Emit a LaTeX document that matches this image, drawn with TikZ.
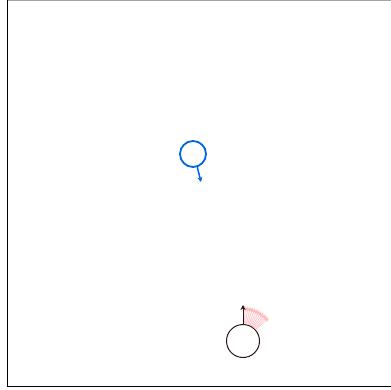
\documentclass[tikz,border=0pt]{standalone}
\usetikzlibrary{arrows.meta,calc}
\definecolor{bluec}{RGB}{0,102,221}
\definecolor{pinkc}{RGB}{255,180,185}
\definecolor{darkc}{RGB}{40,20,20}
\tikzset{
  ball/.style={circle,draw,minimum size=#1,inner sep=0pt},
  tip/.style={-{Stealth[length=5pt,width=5pt]}},
}
\begin{document}
\begin{tikzpicture}[x=1pt,y=-1pt]
\useasboundingbox (0,0) rectangle (391,390);
\draw[gray!70,line width=0.8pt] (7,0.5) -- (391,0.5);
\draw[line width=1pt] (7,0) -- (7,386) -- (391,386);
% blue
\node[ball=26pt,draw=bluec,line width=1.8pt] (b) at (193,154) {};
\coordinate (bt) at (201,182);
\draw[bluec,line width=1.5pt,tip] (b.-72) -- (bt);
% black
\node[ball=33pt,draw=darkc,line width=1pt] (k) at (243,341) {};
\foreach \a in {86,82,...,42}{
  \draw[pinkc,opacity=0.7,line width=0.9pt,tip] (k.\a) -- ($(k.center)+(-\a:35)$);
}
\coordinate (kt) at (243,305);
\draw[darkc,line width=1pt,tip] (k.north) -- (kt);
\end{tikzpicture}
\end{document}
